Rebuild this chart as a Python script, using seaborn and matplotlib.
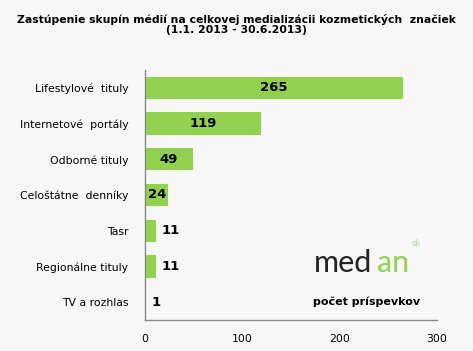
import pandas as pd
import matplotlib.pyplot as plt
import seaborn as sns

categories = ["Lifestylové  tituly", "Internetové  portály", "Odborné tituly", "Celoštátne  denníky",
              "Tasr", "Regionálne tituly", "TV a rozhlas"]
counts = [265, 119, 49, 24, 11, 11, 1]
xticks = [0, 100, 200, 300]

df = pd.DataFrame({"kategoria": categories, "pocet": counts})

bg = "#f7f7f7"
green = "#92d050"

sns.set_style("white")
plt.rcParams["font.family"] = ["DejaVu Sans"]
plt.rcParams["text.color"] = "black"

fig = plt.figure(figsize=(4.73, 3.51), dpi=100, facecolor=bg)
ax = fig.add_axes([0.3066, 0.0883, 0.6173, 0.7123], facecolor=bg)

sns.barplot(data=df, x="pocet", y="kategoria", color=green, width=0.62,
            saturation=1, ax=ax, edgecolor="none")

for i, v in enumerate(counts):
    x = v / 2 if v >= 20 else v + 6
    ax.text(x, i, str(v), ha="center" if v >= 20 else "left", va="center",
            fontsize=9.5, fontweight="bold", color="black")

ax.set_xlim(0, 300)
ax.set_ylim(6.5, -0.5)
ax.set_xticks(xticks)
ax.set_xlabel("")
ax.set_ylabel("")
ax.tick_params(axis="both", length=0, labelsize=7.8, colors="black")
ax.tick_params(axis="y", pad=12)
ax.tick_params(axis="x", pad=10)
for s in ["top", "right"]:
    ax.spines[s].set_visible(False)
for s in ["left", "bottom"]:
    ax.spines[s].set_color("#888888")
    ax.spines[s].set_linewidth(1)

fig.text(0.5, 0.93, "Zastúpenie skupín médií na celkovej medializácii kozmetických  značiek\n(1.1. 2013 - 30.6.2013)",
         ha="center", va="center", fontsize=7.8, fontweight="bold", linespacing=1.1, color="black")

# logo
fig.text(0.664, 0.225, "med", fontsize=22, color="#222222", family="Lato", fontweight="normal",
         ha="left", va="baseline")
fig.text(0.797, 0.225, "an", fontsize=22, color=green, family="Lato", fontweight="normal",
         ha="left", va="baseline")
fig.text(0.871, 0.299, "sk", fontsize=7, color="#b5d98a", family="Lato", ha="left", va="baseline")
fig.text(0.662, 0.13, "počet príspevkov", fontsize=8, fontweight="bold", ha="left", va="baseline",
         color="black")

fig.savefig("out.png", dpi=100, facecolor=bg)
